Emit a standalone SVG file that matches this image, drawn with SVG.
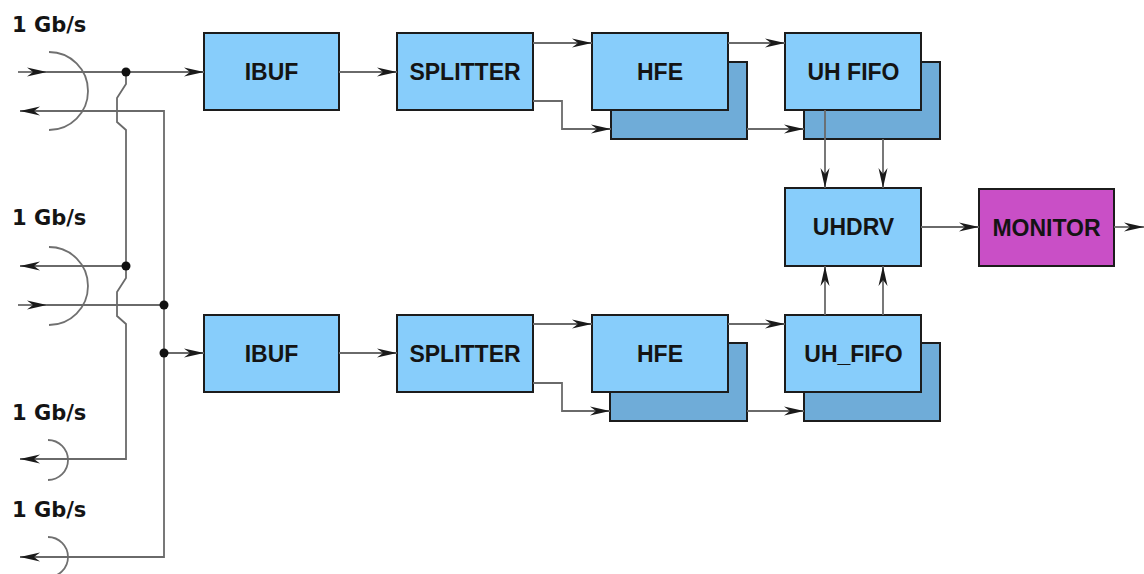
<svg xmlns="http://www.w3.org/2000/svg" width="1144" height="574" viewBox="0 0 1144 574">
  <style>
    .box { fill: #87cdfb; stroke: #1c1c1c; stroke-width: 2; }
    .back { fill: #6facd8; stroke: #1c1c1c; stroke-width: 2; }
    .mon { fill: #c94fc6; stroke: #1c1c1c; stroke-width: 2; }
    .lbl { font-family: "Liberation Sans", Arial, sans-serif; font-weight: bold; font-size: 23px; fill: #141414; text-anchor: middle; }
    .rate { font-family: "DejaVu Sans", Verdana, sans-serif; font-weight: bold; font-size: 21px; fill: #141414; }
    .wire { fill: none; stroke: #6a6a6a; stroke-width: 1.8; }
    .arr { marker-end: url(#head); }
    .plug { fill: none; stroke: #707070; stroke-width: 1.8; }
    .dot { fill: #111; }
  </style>
  <defs>
    <marker id="head" viewBox="0 0 20 10" refX="20" refY="5" markerWidth="21" markerHeight="10" markerUnits="userSpaceOnUse" orient="auto">
      <path d="M0,0.5 L20,5 L0,9.5 L6,5 z" fill="#1a1a1a"/>
    </marker>
  </defs>

  <rect width="1144" height="574" fill="#ffffff"/>

  <!-- link rate labels -->
  <g id="rates">
    <text class="rate" x="12" y="32">1 Gb/s</text>
    <text class="rate" x="12" y="225">1 Gb/s</text>
    <text class="rate" x="12" y="420">1 Gb/s</text>
    <text class="rate" x="12" y="517">1 Gb/s</text>
  </g>

  <!-- connector sockets -->
  <g id="sockets">
    <path class="plug" d="M49,52 A39,39 0 0 1 49,130"/>
    <path class="plug" d="M49,247 A39,39 0 0 1 49,325"/>
    <path class="plug" d="M48,440 A20,20 0 0 1 48,480"/>
    <path class="plug" d="M48,537 A20,20 0 0 1 48,577"/>
  </g>

  <!-- upper chain -->
  <g id="ibuf1"><rect class="box" x="204" y="33" width="135" height="77"/><text class="lbl" x="271.5" y="80">IBUF</text></g>
  <g id="splitter1"><rect class="box" x="397" y="33" width="136" height="77"/><text class="lbl" x="465" y="80">SPLITTER</text></g>
  <g id="hfe1">
    <rect class="back" x="611" y="62" width="136" height="77"/>
    <rect class="box" x="592" y="33" width="136" height="77"/>
    <text class="lbl" x="660" y="80">HFE</text>
  </g>
  <g id="uhfifo1">
    <rect class="back" x="804" y="62" width="136" height="77"/>
    <rect class="box" x="785" y="33" width="136" height="77"/>
    <text class="lbl" x="853.5" y="80">UH FIFO</text>
  </g>

  <!-- output stage -->
  <g id="uhdrv"><rect class="box" x="785" y="188" width="136" height="78"/><text class="lbl" x="853.5" y="235">UHDRV</text></g>
  <g id="monitor"><rect class="mon" x="979" y="189" width="135" height="77"/><text class="lbl" x="1046.5" y="235.5">MONITOR</text></g>

  <!-- lower chain -->
  <g id="ibuf2"><rect class="box" x="204" y="315" width="135" height="77"/><text class="lbl" x="271.5" y="362">IBUF</text></g>
  <g id="splitter2"><rect class="box" x="397" y="315" width="136" height="77"/><text class="lbl" x="465" y="362">SPLITTER</text></g>
  <g id="hfe2">
    <rect class="back" x="610" y="343" width="137" height="78"/>
    <rect class="box" x="592" y="315" width="136" height="77"/>
    <text class="lbl" x="660" y="362">HFE</text>
  </g>
  <g id="uhfifo2">
    <rect class="back" x="804" y="343" width="136" height="78"/>
    <rect class="box" x="785" y="315" width="136" height="77"/>
    <text class="lbl" x="853.5" y="362">UH_FIFO</text>
  </g>

  <g id="connectors">
    <!-- link inputs / outputs -->
    <path class="wire arr" d="M18,72 H47"/>
    <path class="wire arr" d="M47,72 H204"/>
    <path class="wire arr" d="M164,305 V111 H20"/>
    <path class="wire" d="M126,266 V130 L117,122 V98 L126,84 V72"/>
    <path class="wire arr" d="M126,266 H20"/>
    <path class="wire arr" d="M18,305 H47"/>
    <path class="wire" d="M47,305 H164"/>
    <path class="wire arr" d="M126,266 V278 L117,292 V316 L126,324 V459 H20"/>
    <path class="wire arr" d="M164,305 V557 H20"/>
    <path class="wire arr" d="M164,353 H204"/>
    <circle class="dot" cx="126" cy="72" r="4.5"/>
    <circle class="dot" cx="126" cy="266" r="4.5"/>
    <circle class="dot" cx="164" cy="305" r="4.5"/>
    <circle class="dot" cx="164" cy="353" r="4.5"/>

    <!-- upper chain -->
    <path class="wire arr" d="M339,72 H397"/>
    <path class="wire arr" d="M533,43 H592"/>
    <path class="wire arr" d="M533,101 H562 V129 H611"/>
    <path class="wire arr" d="M728,43 H785"/>
    <path class="wire arr" d="M747,129 H804"/>
    <path class="wire arr" d="M825,110 V188"/>
    <path class="wire arr" d="M883,139 V188"/>

    <!-- lower chain -->
    <path class="wire arr" d="M339,353 H397"/>
    <path class="wire arr" d="M533,324 H592"/>
    <path class="wire arr" d="M533,383 H562 V411 H610"/>
    <path class="wire arr" d="M728,324 H785"/>
    <path class="wire arr" d="M747,411 H804"/>
    <path class="wire arr" d="M825,315 V266"/>
    <path class="wire arr" d="M883,315 V266"/>

    <!-- monitor -->
    <path class="wire arr" d="M921,227 H979"/>
    <path class="wire arr" d="M1114,227 H1144"/>
  </g>
</svg>
